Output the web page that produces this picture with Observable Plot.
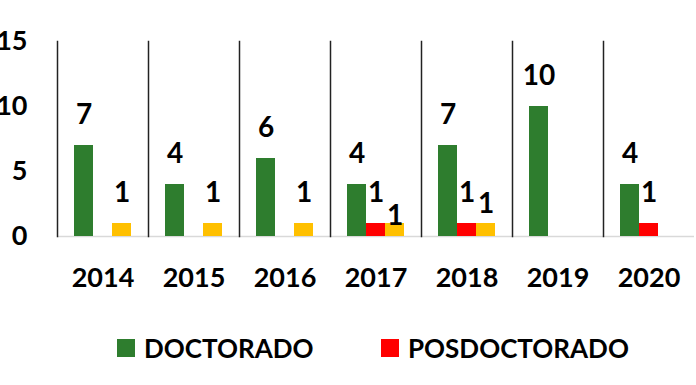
<!DOCTYPE html>
<html>
<head>
<meta charset="utf-8">
<script src="https://cdn.jsdelivr.net/npm/d3@7"></script>
<script src="https://cdn.jsdelivr.net/npm/@observablehq/plot@0.6"></script>
<style>
  html, body { margin: 0; padding: 0; background: #fff; overflow: hidden; }
  #chart svg { display: block; }
  #legend { position: relative; height: 75px; font-family: Lato, sans-serif; font-weight: 700; font-size: 26px; color: #000; }
  .item { position: absolute; top: 22px; display: flex; align-items: center; }
  .sw { width: 18px; height: 18px; margin-right: 9px; }
</style>
</head>
<body>
<div id="chart"></div>
<div id="legend"></div>
<script>
const years = ["2014", "2015", "2016", "2017", "2018", "2019", "2020"];
const seriesNames = ["DOCTORADO", "POSDOCTORADO", "OTROS"];
const doctorado = [7, 4, 6, 4, 7, 10, 4];
const posdoctorado = [0, 0, 0, 1, 1, 0, 1];
const otros = [1, 1, 1, 1, 1, 0, 0];
const yTicks = [0, 5, 10, 15];
const colors = ["#2e7d2e", "#ff0000", "#ffc000"];
const legendSeries = ["DOCTORADO", "POSDOCTORADO"];

const seriesValues = [doctorado, posdoctorado, otros];
const data = years.flatMap((year, i) =>
  seriesNames.map((serie, s) => ({ year, serie, value: seriesValues[s][i] }))
);

// label placement as in the original (labels of the third series were nudged down in 2017 and 2018)
const isNudged = (d, yr) => d.serie === "OTROS" && d.year === yr;
const labelStyle = { x: "serie", y: "value", text: d => String(d.value), fontSize: 28, fontWeight: 700, fill: "#000" };

const chart = Plot.plot({
  width: 696,
  height: 310,
  marginLeft: 55,
  marginRight: 0,
  marginTop: 41,
  marginBottom: 74,
  style: { fontFamily: "Lato, sans-serif", fontWeight: 700, fontSize: "27px", color: "#000", background: "#fff", overflow: "visible" },
  facet: { data, x: "year" },
  fx: { domain: years, padding: 0, label: null, tickSize: 0, tickPadding: 31, axis: "bottom" },
  x: { domain: seriesNames, paddingInner: 0, paddingOuter: 0.79, axis: null },
  y: { domain: [0, 15], ticks: yTicks, tickSize: 0, tickPadding: 30, label: null },
  color: { domain: seriesNames, range: colors },
  marks: [
    Plot.ruleY([0], { stroke: "#d9d9d9", strokeWidth: 1.5 }),
    Plot.frame({ anchor: "left", stroke: "#222", strokeWidth: 1.5 }),
    Plot.barY(data, { x: "serie", y: "value", fill: "serie", filter: d => d.value > 0 }),
    Plot.text(data, { ...labelStyle, dy: -30, filter: d => d.value > 0 && !isNudged(d, "2017") && !isNudged(d, "2018") }),
    Plot.text(data, { ...labelStyle, dy: -7, filter: d => d.value > 0 && isNudged(d, "2017") }),
    Plot.text(data, { ...labelStyle, dy: -19, filter: d => d.value > 0 && isNudged(d, "2018") })
  ]
});
document.getElementById("chart").appendChild(chart);

const legend = document.getElementById("legend");
const lefts = [117, 381];
legendSeries.forEach((name, i) => {
  const item = document.createElement("div");
  item.className = "item";
  item.style.left = lefts[i] + "px";
  const sw = document.createElement("span");
  sw.className = "sw";
  sw.style.background = colors[seriesNames.indexOf(name)];
  const label = document.createElement("span");
  label.textContent = name;
  item.appendChild(sw);
  item.appendChild(label);
  legend.appendChild(item);
});
</script>
</body>
</html>
